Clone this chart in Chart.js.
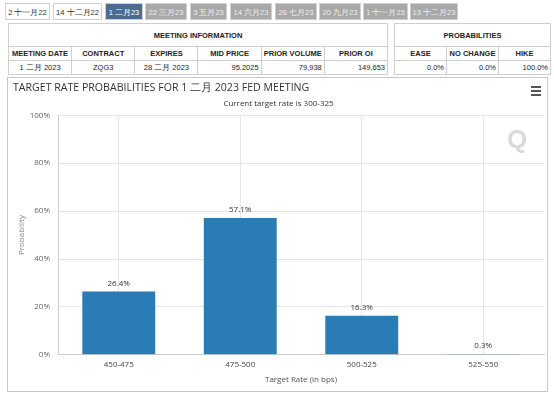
<!DOCTYPE html>
<html>
<head>
<meta charset="utf-8">
<script src="https://cdn.jsdelivr.net/npm/chart.js@4"></script>
<style>
  body { margin: 0; width: 554px; height: 396px; background: #fff; font-family: "Liberation Sans", Arial, sans-serif; position: relative; overflow: hidden; }
  .tabs { position: absolute; left: 0; top: 3px; height: 17px; }
  .tab { position: absolute; top: 0; height: 17px; line-height: 17px; font-size: 7.5px; text-align: center; color: #eee; background: #a9a9a9; border: 1px solid #d0d0d0; box-sizing: border-box; white-space: nowrap; overflow: hidden; }
  .tab.plain { background: #fff; color: #333; }
  .tab.on { background: #4b6c91; color: #fff; }
  table { position: absolute; border-collapse: collapse; font-size: 7.5px; color: #222; background: #fff; table-layout: fixed; }
  td, th { border: 1px solid #cfcfcf; padding: 0 2px; height: 13px; overflow: hidden; white-space: nowrap; }
  th { font-weight: bold; text-align: center; }
  td { text-align: right; }
  td.c { text-align: center; }
  #panel { position: absolute; left: 7px; top: 77px; width: 541px; height: 315px; border: 1px solid #c8c8c8; box-sizing: border-box; background: #fff; }
  #menu { position: absolute; left: 531px; top: 86px; width: 10px; }
  #menu div { height: 2px; background: #555; margin-bottom: 2px; }
  #wm { position: absolute; left: 507px; top: 124px; font: bold 26px "Liberation Sans", Arial, sans-serif; color: #dadada; }
</style>
</head>
<body>
<div class="tabs" id="tabs"></div>

<table style="left:8px; top:23px; width:380px;">
  <tr><th colspan="6" style="height:22px;">MEETING INFORMATION</th></tr>
  <tr><th style="width:72px">MEETING DATE</th><th style="width:54px">CONTRACT</th><th style="width:59px">EXPIRES</th><th style="width:51px">MID PRICE</th><th style="width:73px">PRIOR VOLUME</th><th>PRIOR OI</th></tr>
  <tr><td class="c">1 二月 2023</td><td class="c">ZQG3</td><td class="c">28 二月 2023</td><td>95.2025</td><td>79,938</td><td>149,653</td></tr>
</table>
<table style="left:394px; top:23px; width:157px;">
  <tr><th colspan="3" style="height:22px;">PROBABILITIES</th></tr>
  <tr><th style="width:32px">EASE</th><th style="width:70px">NO CHANGE</th><th>HIKE</th></tr>
  <tr><td>0.0%</td><td>0.0%</td><td>100.0%</td></tr>
</table>

<div id="panel"><canvas id="chart" width="539" height="313"></canvas></div>
<div id="menu"><div></div><div></div><div></div></div>
<div id="wm">Q</div>

<script>
const tabNames = ["2 十一月22", "14 十二月22", "1 二月23", "22 三月23", "3 五月23", "14 六月23", "26 七月23", "20 九月23", "1 十一月23", "13 十二月23"];
const tabLefts = [5, 53, 105, 145, 190, 230, 275, 319, 363, 410];
const tabWidths = [45, 49, 38, 42, 37, 42, 42, 42, 45, 48];

const categories = ["450-475", "475-500", "500-525", "525-550"];
const probabilities = [26.4, 57.1, 16.3, 0.3];
const yTicks = [0, 20, 40, 60, 80, 100];

const tabs = document.getElementById("tabs");
tabNames.forEach((name, i) => {
  const t = document.createElement("div");
  t.className = "tab" + (i < 2 ? " plain" : "") + (i == 2 ? " on" : "");
  t.style.left = tabLefts[i] + "px";
  t.style.width = tabWidths[i] + "px";
  t.textContent = name;
  tabs.appendChild(t);
});

const textFont = "'Open Sans', 'DejaVu Sans', sans-serif";

// labels above the bars
const barLabels = {
  id: "barLabels",
  afterDatasetsDraw(chart) {
    const ctx = chart.ctx;
    const meta = chart.getDatasetMeta(0);
    ctx.save();
    ctx.font = "8px " + textFont;
    ctx.fillStyle = "#333";
    ctx.textAlign = "center";
    ctx.textBaseline = "bottom";
    meta.data.forEach((bar, i) => {
      ctx.fillText(probabilities[i].toFixed(1) + "%", bar.x, bar.y - 4);
    });
    ctx.restore();
  },
};

const config = {
  type: "bar",
  data: {
    labels: categories,
    datasets: [
      {
        label: "Probability",
        data: probabilities,
        backgroundColor: "#2b7bb4",
        barPercentage: 0.6,
        categoryPercentage: 1,
      },
    ],
  },
  options: {
    responsive: false,
    animation: false,
    layout: { padding: { left: 5, right: 3, top: 0, bottom: 6 } },
    plugins: {
      legend: { display: false },
      tooltip: { enabled: false },
      title: {
        display: true,
        text: "TARGET RATE PROBABILITIES FOR 1 二月 2023 FED MEETING",
        align: "start",
        color: "#333",
        font: { family: textFont, size: 10.6, weight: "normal" },
        padding: { top: 4, bottom: 2 },
      },
      subtitle: {
        display: true,
        text: "Current target rate is 300-325",
        color: "#333",
        font: { family: textFont, size: 8 },
        padding: { top: 2, bottom: 7 },
      },
    },
    scales: {
      x: {
        grid: { color: "#e6e6e6", offset: false, drawTicks: false },
        border: { color: "#ccc" },
        ticks: { color: "#444", font: { family: textFont, size: 8 }, padding: 5 },
        title: { display: true, text: "Target Rate (in bps)", color: "#555", font: { family: textFont, size: 8 }, padding: { top: 1, bottom: 0 } },
      },
      y: {
        min: 0,
        max: 100,
        afterBuildTicks(axis) {
          axis.ticks = yTicks.map((v) => ({ value: v }));
        },
        afterFit(axis) {
          axis.width = 45;
        },
        grid: { color: "#e6e6e6", drawTicks: false },
        border: { color: "#ccc" },
        ticks: { color: "#666", font: { family: textFont, size: 8 }, padding: 8, callback: (v) => v + "%" },
        title: { display: true, text: "Probability", color: "#888", font: { family: textFont, size: 8 }, padding: { top: 4, bottom: 0 } },
      },
    },
  },
  plugins: [barLabels],
};

const canvas = document.getElementById("chart").getContext("2d");
const chart = new Chart(canvas, config);
</script>
</body>
</html>
